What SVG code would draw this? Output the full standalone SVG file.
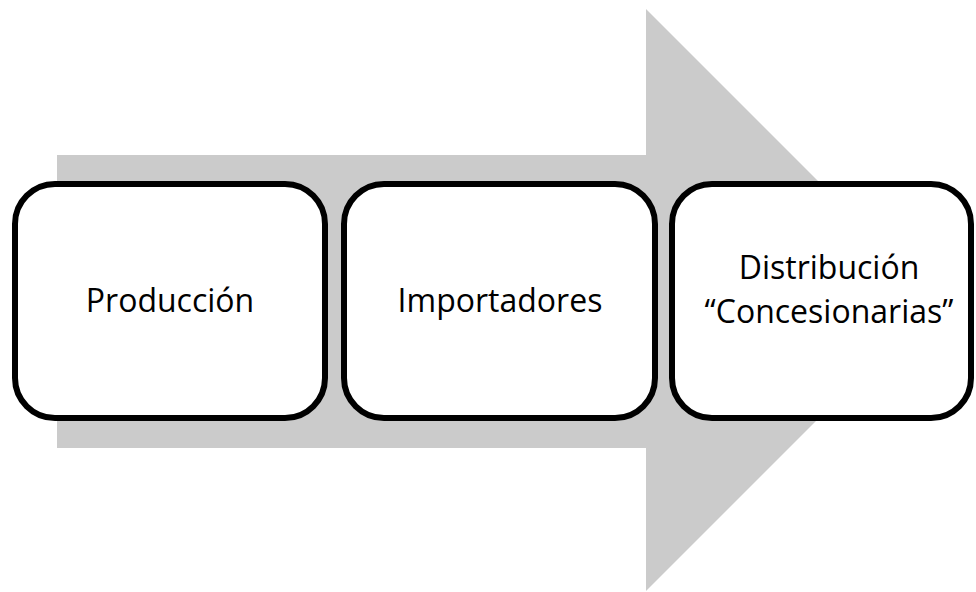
<svg xmlns="http://www.w3.org/2000/svg" width="976" height="592" viewBox="0 0 976 592">
<style>
.box{fill:#fff;stroke:#000;stroke-width:6}
.lbl{font-family:"Open Sans","Liberation Sans",sans-serif;font-size:32px;fill:#000;text-anchor:middle}
</style>
<rect width="976" height="592" fill="#fff"/>
<g id="arrow">
<polygon points="57,155 646,155 646,9 937,300 646,591 646,448 57,448" fill="#cbcbcb"/>
</g>
<g id="node-produccion">
<rect class="box" x="15" y="184" width="310" height="234" rx="40" ry="40"/>
<text class="lbl" x="170" y="312">Producción</text>
</g>
<g id="node-importadores">
<rect class="box" x="344" y="184" width="311" height="234" rx="40" ry="40"/>
<text class="lbl" x="500" y="312">Importadores</text>
</g>
<g id="node-distribucion">
<rect class="box" x="672" y="184" width="299" height="234" rx="40" ry="40"/>
<text class="lbl" x="829" y="279">Distribución</text>
<text class="lbl" x="829" y="323">“Concesionarias”</text>
</g>
<g id="connectors"></g>
</svg>
